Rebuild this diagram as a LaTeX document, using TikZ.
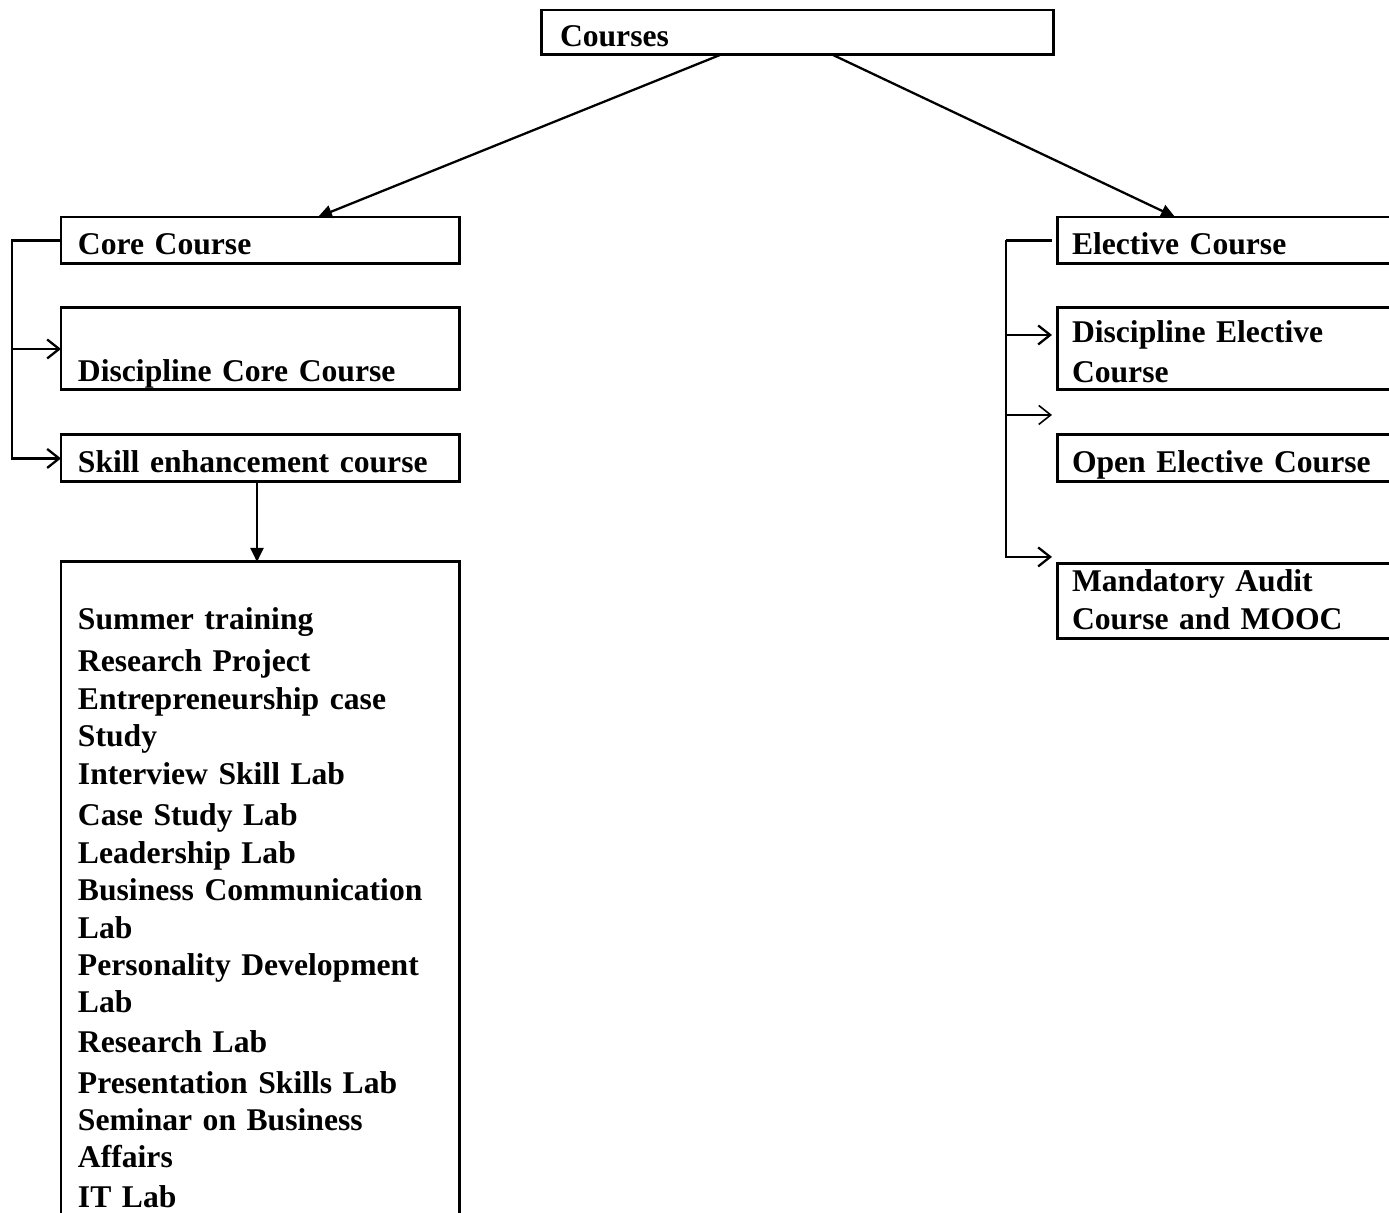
\documentclass[tikz,border=0pt]{standalone}
\usepackage{fontspec}
\setmainfont{Liberation Serif}
\usepackage{tikz}
\usetikzlibrary{arrows.meta,calc,positioning}
\definecolor{plainink}{gray}{0}
\definecolor{plainpaper}{gray}{1}

\begin{document}
\begin{tikzpicture}[x=0.02cm,y=-0.02cm,
  box/.style={draw=plainink,line width=1.7pt,fill=plainpaper,anchor=north west,
    align=left,inner ysep=0pt,outer sep=0pt,
    font=\fontsize{18pt}{21.3pt}\selectfont\bfseries},
  leftbox/.style={box,inner xsep=0.34cm,text width=7.3cm},
  rightbox/.style={box,inner xsep=0.3cm,text width=6.6cm},
  oneline/.style={text height=0.76cm,text depth=0.18cm},
  feed/.style={-{Triangle[length=2.8mm,width=2.6mm]},line width=1.3pt},
  link/.style={line width=1.3pt},
  branch/.style={link,-{Straight Barb[length=2.4mm,width=3.8mm]}}]
\useasboundingbox (0,0) rectangle (1389,1213);
\node[box,inner xsep=0.38cm,text width=9.5cm,text height=0.74cm,text depth=0.16cm]
  (courses) at (541,10) {Courses};
% core side
\node[leftbox,oneline] (core) at (61,217) {Core Course};
\node[leftbox,below=0.88cm of core,text height=1.48cm,text depth=0.16cm]
  (dcc) {Discipline Core Course};
\node[leftbox,oneline,below=0.9cm of dcc] (skill) {Skill enhancement course};
\node[leftbox,below=1.6cm of skill,text height=1.36cm,text depth=13.5cm] (sec)
  {Summer training\\[2.5pt]
   Research Project\\
   Entrepreneurship case\\
   Study\\
   Interview Skill Lab\\[2.5pt]
   Case Study Lab\\
   Leadership Lab\\
   Business Communication\\
   Lab\\
   Personality Development\\
   Lab\\[1.5pt]
   Research Lab\\[1.5pt]
   Presentation Skills Lab\\
   Seminar on Business\\
   Affairs\\[1.5pt]
   IT Lab};
% elective side
\node[rightbox,oneline] (elec) at (1057,217) {Elective Course};
\node[rightbox,below=0.88cm of elec,text height=0.7cm,text depth=0.94cm]
  (dec) {Discipline Elective\\[1pt]Course};
\node[rightbox,oneline,below=0.9cm of dec] (oec) {Open Elective Course};
\node[rightbox,below=1.64cm of oec,text height=0.56cm,text depth=0.94cm]
  (mand) {Mandatory Audit\\Course and MOOC};

\draw[feed] ($(courses.south west)+(179,0)$) -- ($(core.north west)+(257,0)$);
\draw[feed] ($(courses.south west)+(292,0)$) -- ($(elec.north west)+(118,0)$);
\draw[feed] ($(skill.south west)+(196,0)$) -- ($(sec.north west)+(196,0)$);

\coordinate (lbus) at ($(core.west)+(-49,0)$);
\draw[branch] (core.west) -- (lbus) |- (skill.west);
\draw[branch] (lbus |- dcc.west) -- (dcc.west);

\coordinate (rbus) at ($(elec.west)+(-51,0)$);
\coordinate (decin) at ($(dec.north west)+(-5,27)$);
\coordinate (oecin) at ($(oec.north west)+(-5,-20)$);
\coordinate (mandin) at ($(mand.north west)+(-5,-7)$);
\draw[link] ($(elec.west)+(-5,0)$) -- (rbus);
\draw[branch] (rbus) |- (mandin);
\draw[branch] (rbus |- decin) -- (decin);
\draw[branch,line width=0.9pt] (rbus |- oecin) -- (oecin);
\end{tikzpicture}
\end{document}
